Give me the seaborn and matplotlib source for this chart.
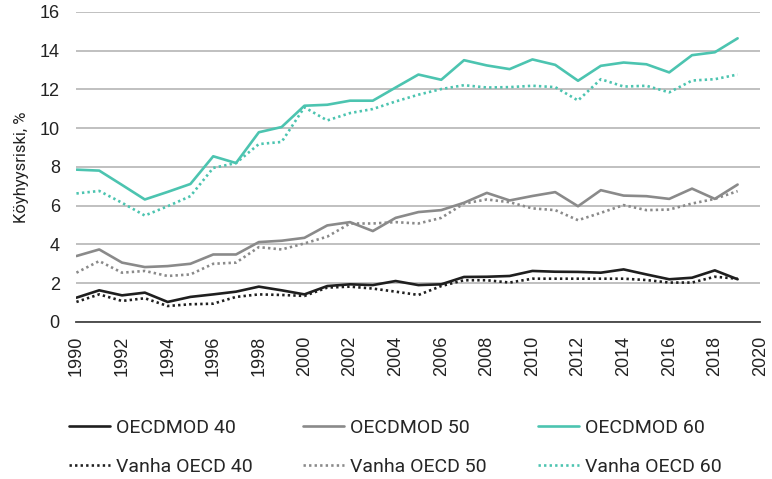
import pandas as pd
import matplotlib
matplotlib.use('Agg')
import matplotlib.pyplot as plt
import seaborn as sns

vuodet = list(range(1990, 2020))

oecdmod_40 = [1.25, 1.63, 1.37, 1.51, 1.03, 1.29, 1.42, 1.56, 1.82, 1.63,
              1.42, 1.85, 1.94, 1.90, 2.11, 1.90, 1.94, 2.32, 2.33, 2.37,
              2.63, 2.59, 2.58, 2.54, 2.71, 2.45, 2.20, 2.28, 2.66, 2.20]
oecdmod_50 = [3.40, 3.74, 3.06, 2.83, 2.88, 3.00, 3.48, 3.48, 4.12, 4.19,
              4.34, 4.98, 5.15, 4.69, 5.37, 5.67, 5.77, 6.15, 6.66, 6.27,
              6.50, 6.70, 5.97, 6.80, 6.52, 6.49, 6.35, 6.88, 6.35, 7.09]
oecdmod_60 = [7.86, 7.81, 7.07, 6.32, 6.71, 7.12, 8.55, 8.20, 9.79, 10.06,
              11.16, 11.21, 11.42, 11.42, 12.10, 12.77, 12.50, 13.51, 13.24, 13.05,
              13.55, 13.27, 12.45, 13.22, 13.39, 13.30, 12.88, 13.77, 13.92, 14.64]
vanha_40 = [1.03, 1.42, 1.08, 1.22, 0.82, 0.91, 0.94, 1.29, 1.42, 1.39,
            1.34, 1.77, 1.82, 1.72, 1.56, 1.39, 1.85, 2.15, 2.15, 2.03,
            2.23, 2.23, 2.23, 2.23, 2.23, 2.16, 2.03, 2.03, 2.33, 2.23]
vanha_50 = [2.54, 3.14, 2.54, 2.63, 2.37, 2.45, 3.00, 3.06, 3.86, 3.74,
            4.05, 4.40, 5.08, 5.08, 5.15, 5.08, 5.37, 6.11, 6.32, 6.18,
            5.86, 5.77, 5.25, 5.63, 6.03, 5.77, 5.80, 6.11, 6.35, 6.75]
vanha_60 = [6.63, 6.76, 6.15, 5.49, 5.97, 6.49, 7.95, 8.20, 9.18, 9.29,
            11.08, 10.40, 10.78, 10.99, 11.38, 11.73, 12.02, 12.22, 12.10, 12.12,
            12.19, 12.12, 11.43, 12.53, 12.15, 12.19, 11.85, 12.46, 12.53, 12.77]

musta = '#1f1f1f'
harmaa = '#8a8a8a'
turkoosi = '#4cc4b0'
pisteet = (0, (0.9, 1.2))

# one legend column per income limit
ryhmat = [
    [('OECDMOD 40', oecdmod_40, musta, '-'), ('Vanha OECD 40', vanha_40, musta, pisteet)],
    [('OECDMOD 50', oecdmod_50, harmaa, '-'), ('Vanha OECD 50', vanha_50, harmaa, pisteet)],
    [('OECDMOD 60', oecdmod_60, turkoosi, '-'), ('Vanha OECD 60', vanha_60, turkoosi, pisteet)],
]

sns.set_style('white')
plt.rcParams['font.family'] = ['Liberation Sans', 'DejaVu Sans']

fig = plt.figure(figsize=(7.72, 4.79), dpi=100)
ax = fig.add_axes([0.099, 0.328, 0.886, 0.647])

kahvat = []
for ryhma in ryhmat:
    viivat = []
    for nimi, arvot, vari, tyyli in ryhma:
        df = pd.DataFrame({'vuosi': vuodet, 'arvo': arvot})
        sns.lineplot(data=df, x='vuosi', y='arvo', ax=ax, color=vari,
                     linestyle=tyyli, linewidth=1.9, label=nimi, legend=False)
        viivat.append((ax.lines[-1], nimi))
    kahvat.append(viivat)

ax.set_xlim(1990, 2020)
ax.set_ylim(0, 16)
ax.set_xticks(range(1990, 2021, 2))
ax.set_yticks(range(0, 17, 2))
ax.tick_params(axis='x', labelrotation=90, labelsize=13, colors='#222222', length=0, pad=10)
ax.tick_params(axis='y', labelsize=13, colors='#222222', length=0, pad=12)
ax.yaxis.grid(True, color='#b5b5b5', linewidth=1.2)
ax.set_axisbelow(True)
for s in ['left', 'right', 'top']:
    ax.spines[s].set_visible(False)
ax.spines['bottom'].set_color('#444444')
ax.spines['bottom'].set_linewidth(1.3)
ax.set_xlabel('')
ax.set_ylabel('Köyhyysriski, %', fontsize=12, family='Roboto', color='#222222', labelpad=8)

for x0, viivat in zip([69, 303, 538], kahvat):
    fig.legend([v for v, _ in viivat], [n for _, n in viivat],
               loc='upper left', bbox_to_anchor=(x0 / 772, 0.126), frameon=False,
               borderpad=0, borderaxespad=0, handlelength=2.1, handletextpad=0.3,
               labelspacing=1.08, prop={'family': 'Roboto', 'size': 14})

fig.savefig('out.png', dpi=100)
